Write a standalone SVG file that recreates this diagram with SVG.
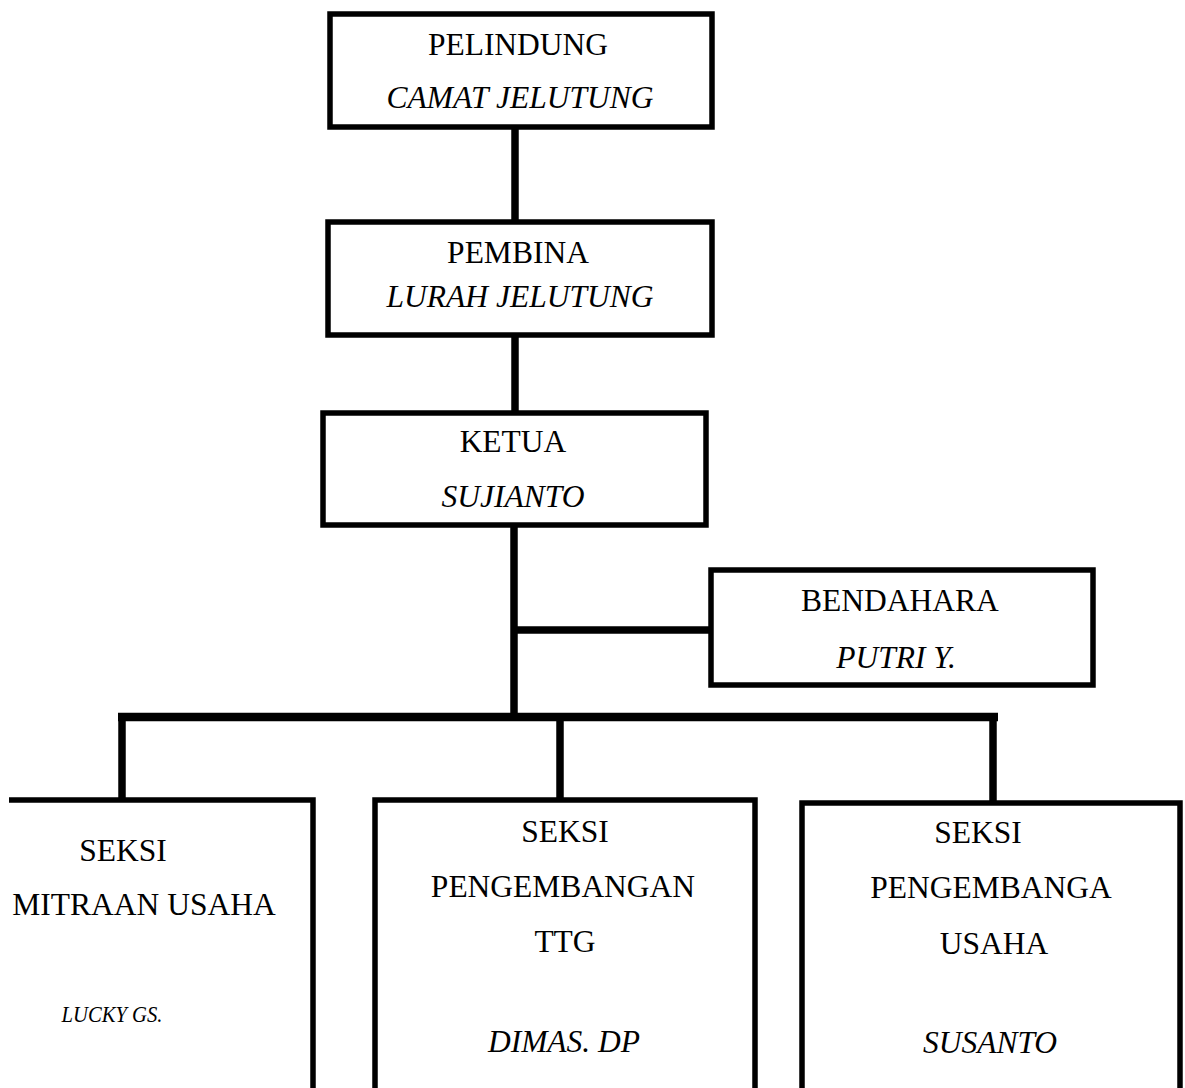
<svg xmlns="http://www.w3.org/2000/svg" width="1185" height="1088" viewBox="0 0 1185 1088">
<style>
.box{fill:#fff;stroke:#000;stroke-width:5.5;stroke-linejoin:miter}
.open{fill:none;stroke:#000;stroke-width:5.5}
.ln{stroke:#000;stroke-width:7.5;fill:none}
text{font-family:"Liberation Serif","Times New Roman",serif;font-size:31.5px;fill:#000;text-anchor:middle}
.it{font-style:italic}
</style>
<rect width="1185" height="1088" fill="#fff"/>
<g id="connectors">
<line class="ln" x1="515" y1="127" x2="515" y2="222"/>
<line class="ln" x1="515" y1="335" x2="515" y2="413"/>
<line class="ln" x1="514" y1="525" x2="514" y2="720"/>
<line class="ln" x1="514" y1="630" x2="711" y2="630"/>
<line x1="118" y1="717" x2="998" y2="717" stroke="#000" stroke-width="8.5"/>
<line class="ln" x1="122" y1="717" x2="122" y2="800"/>
<line class="ln" x1="560" y1="717" x2="560" y2="800"/>
<line class="ln" x1="993" y1="717" x2="993" y2="803"/>
</g>
<g id="pelindung">
<rect class="box" x="330" y="14" width="382" height="113"/>
<text x="518" y="55">PELINDUNG</text>
<text class="it" x="520" y="108">CAMAT JELUTUNG</text>
</g>
<g id="pembina">
<rect class="box" x="328" y="222" width="384" height="113"/>
<text x="518" y="263">PEMBINA</text>
<text class="it" x="520" y="307">LURAH JELUTUNG</text>
</g>
<g id="ketua">
<rect class="box" x="323" y="413" width="383" height="112"/>
<text x="513" y="452">KETUA</text>
<text class="it" x="513" y="507">SUJIANTO</text>
</g>
<g id="bendahara">
<rect class="box" x="711" y="570" width="382" height="115"/>
<text x="900" y="611">BENDAHARA</text>
<text class="it" x="896" y="668">PUTRI Y.</text>
</g>
<g id="seksi-mitraan">
<polyline class="open" points="9,800 313,800 313,1095"/>
<text x="123" y="861">SEKSI</text>
<text x="144" y="915">MITRAAN USAHA</text>
<text class="it" x="112" y="1022" style="font-size:23px" textLength="101" lengthAdjust="spacingAndGlyphs">LUCKY GS.</text>
</g>
<g id="seksi-ttg">
<polyline class="open" points="375,1095 375,800 755,800 755,1095"/>
<text x="565" y="842">SEKSI</text>
<text x="563" y="897">PENGEMBANGAN</text>
<text x="565" y="952">TTG</text>
<text class="it" x="564" y="1052">DIMAS. DP</text>
</g>
<g id="seksi-usaha">
<polyline class="open" points="802,1095 802,803 1180,803 1180,1095"/>
<text x="978" y="843">SEKSI</text>
<text x="991" y="898">PENGEMBANGA</text>
<text x="994" y="954">USAHA</text>
<text class="it" x="990" y="1053">SUSANTO</text>
</g>
</svg>
